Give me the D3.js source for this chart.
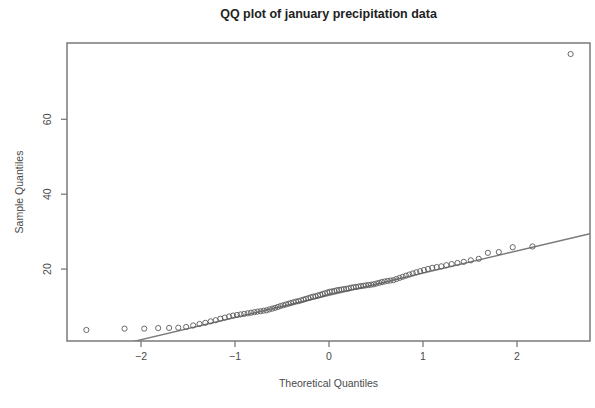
<!DOCTYPE html>
<html>
<head>
<meta charset="utf-8">
<script src="https://cdnjs.cloudflare.com/ajax/libs/d3/7.8.5/d3.min.js"></script>
<style>
  body { margin: 0; background: #fff; }
  svg { font-family: "Liberation Sans", Arial, sans-serif; }
</style>
</head>
<body>
<svg id="qq" width="595" height="408"></svg>
<script>
// sorted january precipitation sample
var sample = [
  3.6, 3.95, 3.95, 4.1, 4.15, 4.2, 4.4, 4.8, 5.2, 5.5,
  5.9, 6.2, 6.6, 6.9, 7.2, 7.45, 7.6, 7.75, 7.9, 8.05,
  8.2, 8.35, 8.5, 8.6, 8.75, 8.85, 9.1, 9.3, 9.5, 9.75,
  10.0, 10.2, 10.4, 10.6, 10.8, 11.0, 11.2, 11.3, 11.5, 11.7,
  11.9, 12.1, 12.3, 12.5, 12.6, 12.8, 13.0, 13.2, 13.4, 13.6,
  13.8, 13.9, 14.0, 14.2, 14.3, 14.4, 14.5, 14.6, 14.7, 14.9,
  15.0, 15.1, 15.2, 15.3, 15.4, 15.5, 15.6, 15.7, 15.8, 16.0,
  16.2, 16.4, 16.55, 16.7, 16.8, 16.9, 17.2, 17.5, 17.8, 18.1,
  18.4, 18.7, 19.0, 19.3, 19.6, 19.9, 20.2, 20.4, 20.6, 20.9,
  21.2, 21.5, 21.8, 22.2, 22.6, 24.2, 24.4, 25.7, 25.9, 77.3
];
var xTicks = [-2, -1, 0, 1, 2];
var yTicks = [20, 40, 60];
var title = "QQ plot of january precipitation data";
var xLabel = "Theoretical Quantiles";
var yLabel = "Sample Quantiles";

// inverse normal cdf (Acklam)
function qnorm(p) {
    var a = [-39.69683028665376, 220.9460984245205, -275.9285104469687, 138.3577518672690, -30.66479806614716, 2.506628277459239],
        b = [-54.47609879822406, 161.5858368580409, -155.6989798598866, 66.80131188771972, -13.28068155288572],
        c = [-0.007784894002430293, -0.3223964580411365, -2.400758277161838, -2.549732539343734, 4.374664141464968, 2.938163982698783],
        d = [0.007784695709041462, 0.3224671290700398, 2.445134137142996, 3.754408661907416];
    var q, r;
    if (p < 0.02425) {
        q = Math.sqrt(-2 * Math.log(p));
        return (((((c[0]*q+c[1])*q+c[2])*q+c[3])*q+c[4])*q+c[5]) / ((((d[0]*q+d[1])*q+d[2])*q+d[3])*q+1);
    } else if (p > 1 - 0.02425) {
        q = Math.sqrt(-2 * Math.log(1 - p));
        return -(((((c[0]*q+c[1])*q+c[2])*q+c[3])*q+c[4])*q+c[5]) / ((((d[0]*q+d[1])*q+d[2])*q+d[3])*q+1);
    }
    q = p - 0.5; r = q * q;
    return (((((a[0]*r+a[1])*r+a[2])*r+a[3])*r+a[4])*r+a[5])*q / (((((b[0]*r+b[1])*r+b[2])*r+b[3])*r+b[4])*r+1);
}

var n = sample.length;
var pts = sample.map(function (v, i) {
    return {x: qnorm((i + 1 - 0.5) / n), y: v};
});

// qqline through the quartiles
var q1 = d3.quantile(sample, 0.25), q3 = d3.quantile(sample, 0.75);
var slope = (q3 - q1) / (qnorm(0.75) - qnorm(0.25));
var icpt = q1 - slope * qnorm(0.25);

var svg = d3.select("#qq");
var margin = {top: 43, right: 5, bottom: 67, left: 67},
    width = 595 - margin.left - margin.right,
    height = 408 - margin.top - margin.bottom;

function pad(ext) {
    var p = (ext[1] - ext[0]) * 0.04;
    return [ext[0] - p, ext[1] + p];
}
var x = d3.scaleLinear().domain(pad(d3.extent(pts, function (d) { return d.x; }))).range([0, width]);
var y = d3.scaleLinear().domain(pad(d3.extent(sample))).range([height, 0]);

var g = svg.append("g")
    .attr("transform", "translate(" + margin.left + "," + margin.top + ")");

var grey = "#7a7a7a", ink = "#4a4a4a";

g.append("defs").append("clipPath").attr("id", "clip")
    .append("rect").attr("width", width).attr("height", height);

// qq line
var x0 = x.domain()[0], x1 = x.domain()[1];
g.append("line")
    .attr("clip-path", "url(#clip)")
    .attr("x1", x(x0)).attr("y1", y(icpt + slope * x0))
    .attr("x2", x(x1)).attr("y2", y(icpt + slope * x1))
    .style("stroke", grey)
    .style("stroke-width", 1.4);

// points
g.append("g").selectAll("circle")
    .data(pts)
    .enter().append("circle")
    .attr("cx", function (d) { return x(d.x); })
    .attr("cy", function (d) { return y(d.y); })
    .attr("r", 2.6)
    .style("fill", "none")
    .style("stroke", "#5a5a5a")
    .style("stroke-width", 0.9);

// box
g.append("rect")
    .attr("width", width).attr("height", height)
    .style("fill", "none")
    .style("stroke", grey)
    .style("stroke-width", 1.5);

// axes
var xAxis = g.append("g")
    .attr("transform", "translate(0," + height + ")")
    .call(d3.axisBottom(x).tickValues(xTicks).tickSize(6).tickPadding(6).tickFormat(d3.format("d")));
var yAxis = g.append("g")
    .call(d3.axisLeft(y).tickValues(yTicks).tickSize(6).tickPadding(4));

[xAxis, yAxis].forEach(function (a) {
    a.select(".domain").remove();
    a.selectAll("line").style("stroke", grey).style("stroke-width", 1.3);
    a.selectAll("text")
        .style("fill", ink)
        .style("font-size", "10.5px")
        .style("font-family", "Liberation Sans, Arial, sans-serif");
});
yAxis.selectAll("text")
    .attr("transform", "rotate(-90)")
    .attr("x", 0).attr("y", -16)
    .attr("dy", 0)
    .style("text-anchor", "middle");

// titles
svg.append("text")
    .attr("x", margin.left + width / 2)
    .attr("y", 18)
    .style("text-anchor", "middle")
    .style("font-weight", "bold")
    .style("font-size", "12.5px")
    .style("fill", "#222")
    .text(title);

svg.append("text")
    .attr("x", margin.left + width / 2)
    .attr("y", 387)
    .style("text-anchor", "middle")
    .style("font-size", "10.5px")
    .style("fill", ink)
    .text(xLabel);

svg.append("text")
    .attr("transform", "translate(23," + (margin.top + height / 2) + ") rotate(-90)")
    .style("text-anchor", "middle")
    .style("font-size", "10.5px")
    .style("fill", ink)
    .text(yLabel);
</script>
</body>
</html>
